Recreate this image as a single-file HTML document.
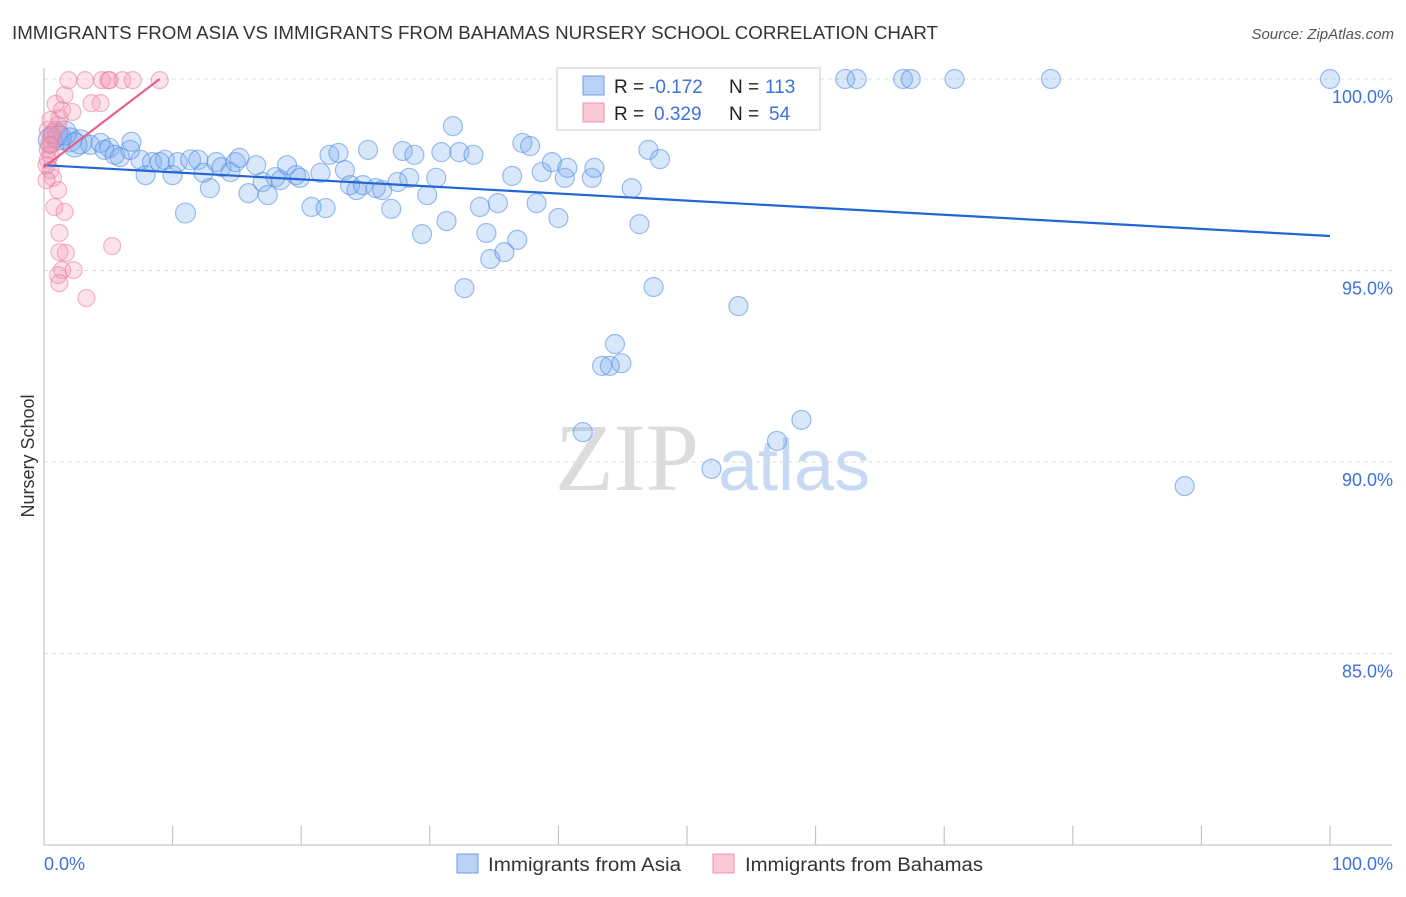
<!DOCTYPE html>
<html><head><meta charset="utf-8"><style>
body{margin:0;background:#fff;font-family:"Liberation Sans",sans-serif}
</style></head><body>
<svg id="chart" width="1406" height="892" viewBox="0 0 1406 892" xmlns="http://www.w3.org/2000/svg" font-family="Liberation Sans, sans-serif">
<text x="12" y="39" font-size="18" fill="#333" textLength="926" lengthAdjust="spacingAndGlyphs">IMMIGRANTS FROM ASIA VS IMMIGRANTS FROM BAHAMAS NURSERY SCHOOL CORRELATION CHART</text>
<text x="1394" y="39" font-size="15" fill="#555" font-style="italic" text-anchor="end">Source: ZipAtlas.com</text>
<text transform="translate(34,456) rotate(-90)" font-size="18" fill="#333" text-anchor="middle">Nursery School</text>
<g><text x="555" y="490" font-size="96" font-family="Liberation Serif, serif" fill="#dcdcdc">ZIP</text><text x="718" y="490" font-size="72" fill="#c8daf3">atlas</text></g>
<g id="grid"></g>
<line x1="44" y1="68" x2="44" y2="845" stroke="#bbb"/>
<line x1="44" y1="845" x2="1392" y2="845" stroke="#bbb"/>
<g id="ticks"></g>
<g id="pts-blue"></g><g id="pts-pink"></g><g id="trends"></g>
<g>
<rect x="557" y="68" width="263" height="62" fill="#fff" stroke="#ccc"/>
<rect x="583" y="76" width="21" height="19" fill="#b9d1f5" stroke="#6f9ee6"/>
<rect x="583" y="103" width="21" height="19" fill="#fbc8d6" stroke="#ec93ad"/>
<text x="614" y="93" font-size="19" fill="#222">R =</text>
<text x="649" y="93" font-size="19" fill="#3d72d8">-0.172</text>
<text x="729" y="93" font-size="19" fill="#222">N =</text>
<text x="765" y="93" font-size="19" fill="#3d72d8">113</text>
<text x="614" y="120" font-size="19" fill="#222">R =</text>
<text x="654" y="120" font-size="19" fill="#3d72d8">0.329</text>
<text x="729" y="120" font-size="19" fill="#222">N =</text>
<text x="769" y="120" font-size="19" fill="#3d72d8">54</text>
</g>
<g>
<rect x="457" y="854" width="21" height="19" fill="#b9d1f5" stroke="#6f9ee6"/>
<text x="488" y="871" font-size="19" fill="#333" textLength="193" lengthAdjust="spacingAndGlyphs">Immigrants from Asia</text>
<rect x="713" y="854" width="21" height="19" fill="#fbc8d6" stroke="#ec93ad"/>
<text x="745" y="871" font-size="19" fill="#333" textLength="238" lengthAdjust="spacingAndGlyphs">Immigrants from Bahamas</text>
</g>
</svg>
<script>
const yTicks=[100,95,90,85];
const yTickLabels=["100.0%","95.0%","90.0%","85.0%"];
const xTicks=[0,10,20,30,40,50,60,70,80,90,100];
const blueX=[0.5,1.2,2.0,2.8,3.6,4.4,5.1,5.9,6.7,4.7,5.5,6.8,7.5,7.9,8.4,9.0,9.4,10.0,10.4,11.0,11.4,12.0,12.4,12.9,13.4,13.8,14.5,14.9,15.2,15.9,16.5,17.0,17.4,18.0,18.4,18.9,19.6,19.9,20.8,21.5,21.9,22.2,22.9,23.4,23.8,24.3,24.8,25.2,25.8,26.3,27.0,27.5,27.9,28.4,28.8,29.4,29.8,30.5,30.9,31.3,31.8,32.3,32.7,33.4,33.9,34.4,34.7,35.3,35.8,36.4,36.8,37.2,37.8,38.3,38.7,39.5,40.0,40.5,40.7,41.9,42.6,42.8,43.4,44.0,44.4,44.9,45.7,46.3,47.0,47.4,47.9,48.1,51.9,52.4,53.3,54.0,57.0,58.9,62.3,63.2,66.8,67.4,70.8,78.3,88.7,100,0.9,1.6,2.4];
const blueY=[98.41,98.46,98.41,98.36,98.28,98.33,98.20,97.96,98.15,98.15,98.02,98.36,97.89,97.49,97.83,97.83,97.89,97.49,97.83,96.50,97.89,97.89,97.55,97.15,97.83,97.70,97.57,97.83,97.94,97.02,97.75,97.31,96.97,97.44,97.36,97.75,97.49,97.42,96.66,97.55,96.63,98.02,98.07,97.62,97.23,97.10,97.23,98.15,97.15,97.10,96.61,97.31,98.12,97.42,98.02,95.95,96.97,97.42,98.09,96.29,98.77,98.09,94.54,98.02,96.66,95.98,95.30,96.76,95.48,97.47,95.80,98.33,98.25,96.76,97.57,97.83,96.37,97.42,97.68,90.78,97.42,97.68,92.51,92.51,93.08,92.58,97.15,96.21,98.15,94.57,97.91,100,89.82,99.53,99.97,94.07,90.55,91.10,100,100,100,100,100,100,89.37,100,98.54,98.59,98.28];
const pinkX=[0.5,0.6,0.3,0.5,0.3,0.9,1.1,1.2,1.4,0.9,1.6,1.9,3.2,4.5,5.0,5.1,6.1,6.9,9.0,3.7,4.4,2.2,0.5,0.7,1.1,0.8,1.6,1.2,1.7,1.2,1.4,2.3,1.1,1.2,3.3,5.3,0.3,0.5,0.2,0.2,0.6,0.4];
const pinkY=[98.41,98.28,98.15,98.02,97.89,98.67,98.80,98.98,99.19,99.35,99.58,99.97,99.97,99.97,99.97,99.97,99.97,99.97,99.97,99.37,99.37,99.14,97.62,97.42,97.10,96.66,96.53,95.98,95.46,95.48,95.01,95.01,94.88,94.67,94.28,95.64,98.67,98.93,97.36,97.75,98.54,98.28];
const blueTrend=[[0,97.75],[100,95.9]];
const pinkTrend=[[0,97.7],[9,100]];
const NS="http://www.w3.org/2000/svg";
const X=v=>44+v*12.86, Y=v=>79+(100-v)*38.3;
function mk(tag,attrs,parent){const e=document.createElementNS(NS,tag);for(const k in attrs)e.setAttribute(k,attrs[k]);document.getElementById(parent).appendChild(e);return e;}
yTicks.forEach((t,i)=>{
  const l=mk('line',{x1:44,x2:1392,y1:Y(t),y2:Y(t),stroke:'#ddd','stroke-dasharray':'4,4'},'grid');
  
  
  const tx=mk('text',{x:1393,y:Y(t)+24,'font-size':18,fill:'#3d72d8','text-anchor':'end'},'grid');
  tx.textContent=yTickLabels[i];
  
  
});
xTicks.forEach(t=>{
  const l=mk('line',{x1:X(t),x2:X(t),y1:826,y2:845,stroke:'#bbb'},'ticks');
  
  
});
[[0,'0.0%','start',44],[100,'100.0%','end',1393]].forEach(d=>{
  const tx=mk('text',{x:d[3],y:870,'font-size':18,fill:'#3d72d8','text-anchor':d[2]},'ticks');
  tx.textContent=d[1];
  
  
});
blueX.forEach((v,i)=>{
  const r=(v<3)?12:(v>10.5&&v<11.5?10:9.5);
  const c=mk('circle',{cx:X(v),cy:Y(blueY[i]),r:r,fill:'rgba(120,168,238,0.28)',stroke:'rgba(80,138,225,0.55)','stroke-width':1.2},'pts-blue');
  
  
});
pinkX.forEach((v,i)=>{
  const c=mk('circle',{cx:X(v),cy:Y(pinkY[i]),r:8.5,fill:'rgba(245,150,178,0.28)',stroke:'rgba(232,125,160,0.55)','stroke-width':1.2},'pts-pink');
  
  
});
const bt=mk('line',{x1:X(blueTrend[0][0]),y1:Y(blueTrend[0][1]),x2:X(blueTrend[1][0]),y2:Y(blueTrend[1][1]),stroke:'#2166d4','stroke-width':2.2},'trends');


const pt=mk('line',{x1:X(pinkTrend[0][0]),y1:Y(pinkTrend[0][1]),x2:X(pinkTrend[1][0]),y2:Y(pinkTrend[1][1]),stroke:'#e8608a','stroke-width':2.2},'trends');


</script>
</body></html>
